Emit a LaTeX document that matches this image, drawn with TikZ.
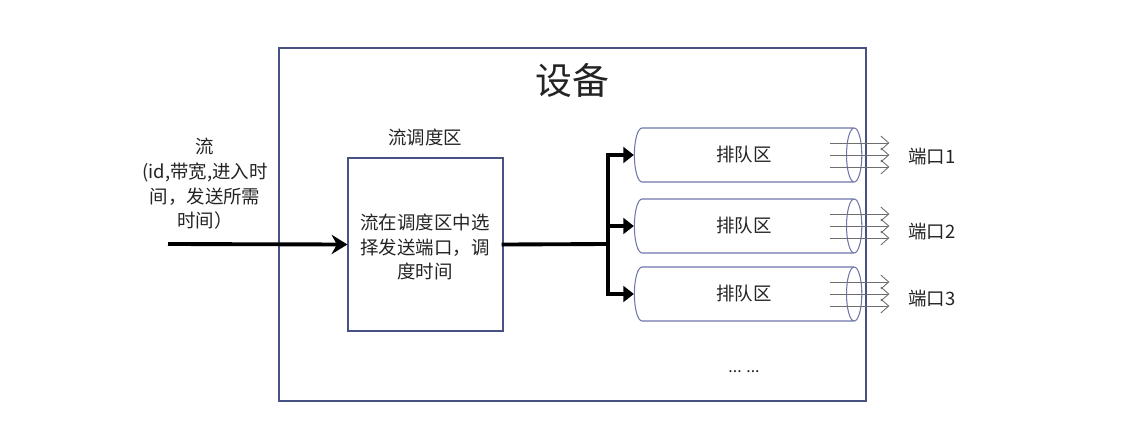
\documentclass[tikz,border=0pt]{standalone}
\usepackage{fontspec}
\setmainfont{Noto Sans CJK SC}
\usetikzlibrary{shapes.geometric,arrows.meta,positioning}
\definecolor{frameblue}{RGB}{72,82,130}
\definecolor{tubeblue}{RGB}{110,118,170}
\definecolor{txtgray}{RGB}{35,35,35}
\definecolor{arrgray}{RGB}{110,110,110}

\begin{document}
\begin{tikzpicture}[x=0.02cm,y=-0.02cm,>=Stealth,font=\fontsize{10.5}{14}\selectfont,text=txtgray,
  frame/.style={draw=frameblue,line width=0.7pt},
  queue/.style={cylinder,draw=tubeblue,line width=0.6pt,shape border rotate=0,aspect=0.9,
    minimum width=1.08cm,minimum height=4.55cm,inner sep=0pt},
  thickarrow/.style={line width=2.2pt,black},
  portarrow/.style={arrgray,line width=0.5pt,-{Straight Barb[length=4.5pt,width=8pt]}}]

  \useasboundingbox (0,0) rectangle (1121,436);

  % device frame and title
  \node[frame,minimum width=11.74cm,minimum height=7.06cm,inner sep=0pt] (dev) at (572.5,224.5) {};
  \node[font=\fontsize{21}{24}\selectfont] (title) at (572,80) {设备};

  % incoming flow
  \node[align=center] (flow) at (205,184) {流\\(id,带宽,进入时\\间，发送所需\\时间）};
  \coordinate (src) at (168,244);

  % scheduler
  \node[frame,minimum width=3.1cm,minimum height=3.46cm,inner sep=0pt] (sched) at (425.5,244.5) {};
  \node[align=center] (schedtxt) at (425,247) {流在调度区中选\\择发送端口，调\\度时间};
  \node (schedlbl) at (425,137) {流调度区};

  % queues
  \node[queue] (q1) at (744,155) {排队区};
  \node[queue] (q2) at (744,226) {排队区};
  \node[queue] (q3) at (744,294) {排队区};
  \node (dots) at (744,372) {\fontsize{9}{10}\selectfont ... ...};

  % ports
  \node (p1) at (932,157) {端口1};
  \node (p2) at (932,232) {端口2};
  \node (p3) at (932,299) {端口3};

  % connections
  \draw[thickarrow,-{Stealth[length=9pt,width=11pt,inset=3pt]}] (src) -- (sched.west);
  \coordinate (split) at (608,244);
  \draw[thickarrow,line cap=rect] (sched.east) -- (split);
  \foreach \q in {q1,q2,q3}
    \draw[thickarrow,-{Triangle[length=6pt,width=9pt]}] (split) |- (\q.west);

  \foreach \q in {q1,q2,q3}
    \foreach \d in {-12,0,12}
      \draw[portarrow] ([shift={(-32,\d)}]\q.east) -- ([shift={(27,\d)}]\q.east);
\end{tikzpicture}
\end{document}
